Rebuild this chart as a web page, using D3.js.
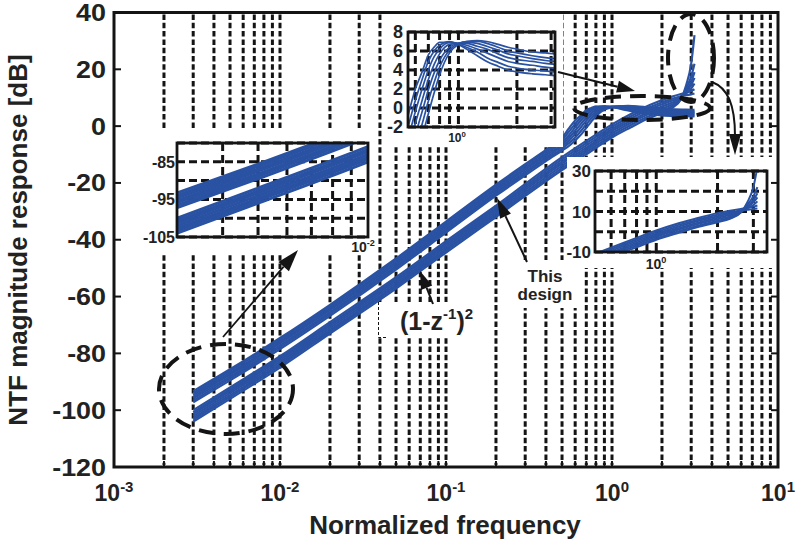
<!DOCTYPE html>
<html><head><meta charset="utf-8">
<script src="https://cdn.jsdelivr.net/npm/d3@7"></script>
<style>
body{margin:0;background:#fff}
svg{display:block}
text{font-family:"Liberation Sans",Arial,Helvetica,sans-serif;font-weight:bold;fill:#222}
</style>
</head><body>
<svg id="c" width="797" height="545"></svg>
<script>
// ---------------- DATA ----------------
// "This design" NTF family (flattens out of band)
const FREQ_UP = [0.003,0.005,0.01,0.02,0.05,0.1,0.2,0.3,0.4,0.5,0.55,0.6,0.65,0.7,0.75,0.8,0.9,1.0,1.1,1.25,1.4,1.6,1.8,2.0,2.4,2.8,3.14];
const UP_C0 = [-93.3,-85.6,-74.6,-62.9,-46.6,-33.6,-20.6,-13.4,-8.4,-4.1,-0.8,2.0,3.8,5.6,6.4,6.9,6.9,6.7,6.2,5.5,4.9,4.4,4.0,3.8,3.6,3.5,3.4];
const UP_C1 = [-94.0,-86.2,-75.2,-63.5,-47.2,-34.2,-21.2,-14.0,-9.0,-4.9,-2.0,0.8,3.0,4.9,6.0,6.6,7.0,6.7,6.4,5.9,5.3,4.8,4.4,4.2,4.0,3.9,3.8];
const UP_C2 = [-94.6,-86.9,-75.9,-64.2,-47.9,-34.9,-21.9,-14.7,-9.7,-5.6,-3.2,-0.4,2.0,4.0,5.4,6.2,6.9,6.8,6.6,6.2,5.8,5.3,4.9,4.7,4.5,4.3,4.2];
const UP_C3 = [-95.3,-87.5,-76.5,-64.8,-48.5,-35.5,-22.5,-15.3,-10.3,-6.4,-4.2,-1.6,0.8,3.0,4.6,5.7,6.7,6.8,6.8,6.5,6.2,5.7,5.3,5.1,4.9,4.7,4.6];
const UP_C4 = [-95.9,-88.2,-77.2,-65.5,-49.2,-36.2,-23.2,-16.0,-11.0,-7.1,-5.1,-2.8,-0.4,1.9,3.7,5.0,6.4,6.8,6.9,6.8,6.5,6.1,5.7,5.5,5.2,5.0,4.9];
const UP_C5 = [-96.6,-88.8,-77.8,-66.1,-49.8,-36.8,-23.8,-16.6,-11.6,-7.9,-6.0,-4.0,-1.7,0.7,2.7,4.3,6.1,6.8,7.0,7.0,6.8,6.4,6.0,5.8,5.5,5.3,5.2];
const UP_C6 = [-97.2,-89.5,-78.5,-66.8,-50.5,-37.5,-24.5,-17.3,-12.3,-8.6,-7.0,-5.0,-3.0,-0.6,1.6,3.5,5.8,6.7,7.0,7.1,7.0,6.7,6.4,6.2,5.9,5.8,5.7];
const UP_CURVES = [UP_C0,UP_C1,UP_C2,UP_C3,UP_C4,UP_C5,UP_C6];

// (1-z^-1)^2 family (keeps rising, fans out near pi)
const FREQ_LO = [0.003,0.005,0.01,0.02,0.05,0.1,0.2,0.5,0.8,1.0,1.3,1.6,2.0,2.3,2.6,2.8,3.0,3.14];
const LO_C0 = [-100.0,-92.0,-81.0,-69.0,-53.2,-40.5,-28.0,-10.9,-3.0,0.6,4.3,6.8,9.2,10.4,11.3,11.8,12.4,13.0];
const LO_C1 = [-100.7,-92.7,-81.7,-69.7,-53.9,-41.2,-28.7,-11.7,-3.8,-0.2,3.5,6.0,8.4,9.6,10.5,10.9,11.2,11.5];
const LO_C2 = [-101.3,-93.3,-82.3,-70.3,-54.5,-41.8,-29.3,-12.5,-4.6,-1.0,2.7,5.3,7.7,9.0,10.4,11.6,13.2,15.0];
const LO_C3 = [-102.0,-94.0,-83.0,-71.0,-55.2,-42.5,-30.0,-13.2,-5.4,-1.7,1.9,4.5,6.9,8.3,10.2,12.2,14.5,17.0];
const LO_C4 = [-102.7,-94.7,-83.7,-71.7,-55.9,-43.2,-30.7,-14.0,-6.1,-2.5,1.2,3.8,6.2,7.6,9.8,12.5,15.6,19.0];
const LO_C5 = [-103.3,-95.3,-84.3,-72.3,-56.5,-43.8,-31.3,-14.8,-6.9,-3.3,0.4,3.0,5.4,7.0,9.5,13.3,17.5,22.0];
const LO_C6 = [-104.0,-96.0,-85.0,-73.0,-57.2,-44.5,-32.0,-15.5,-7.7,-4.0,-0.4,2.3,4.7,6.4,9.5,14.5,22.0,32.0];
const LO_CURVES = [LO_C0,LO_C1,LO_C2,LO_C3,LO_C4,LO_C5,LO_C6];

const Y_TICKS = [40,20,0,-20,-40,-60,-80,-100,-120];
const X_DECADES = [-3,-2,-1,0,1];
const INSET1_YLABELS = [-85,-95,-105];
const INSET2_YLABELS = [8,6,4,2,0,-2];
const INSET3_YLABELS = [30,10,-10];

// ---------------- DRAW ----------------
const svg = d3.select("#c");
const defs = svg.append("defs");
const BLUE = "#2A52A3", INK = "#141414";
const L=114, R=778, T=12.5, B=467;
const x = d3.scaleLog().domain([1e-3,10]).range([L,R]);
const y = d3.scaleLinear().domain([-120,40]).range([B,T]);

defs.append("clipPath").attr("id","mainclip").append("rect")
  .attr("x",L).attr("y",T).attr("width",R-L).attr("height",B-T);

// vertical dashed grid
const gridF = x.ticks().filter(f => f > 1.0001e-3 && f < 9.999);
svg.append("g").selectAll("line").data(gridF).join("line")
  .attr("x1",d=>x(d)).attr("x2",d=>x(d)).attr("y1",T+2).attr("y2",B-2)
  .attr("stroke",INK).attr("stroke-width",3).attr("stroke-dasharray","5.5,2.8");

const line = (xs,ys) => d3.line().x(d=>xs(d[0])).y(d=>ys(d[1])).curve(d3.curveMonotoneX);

function drawBand(g, freqs, curves, xs, ys, sw){
  curves.forEach(c=>{
    g.append("path").datum(freqs.map((f,i)=>[f,c[i]]))
      .attr("d", line(xs,ys)).attr("fill","none")
      .attr("stroke",BLUE).attr("stroke-width",sw).attr("stroke-linejoin","round");
  });
}
const gMain = svg.append("g").attr("clip-path","url(#mainclip)");
drawBand(gMain, FREQ_UP, UP_CURVES, x, y, 2.2);
drawBand(gMain, FREQ_LO, LO_CURVES, x, y, 2.2);

// white boxes for insets / labels
const white = (x0,y0,x1,y1) => svg.append("rect").attr("x",x0).attr("y",y0)
   .attr("width",x1-x0).attr("height",y1-y0).attr("fill","#fff");
white(140,130,377,255);
white(386,14,563,147);
white(567,157,775,268);
white(512,260,580,308);
white(378,302,452,338);
svg.append("path").attr("d","M378.5,302 V337.5 H386").attr("fill","none")
  .attr("stroke",INK).attr("stroke-width",1).attr("stroke-dasharray","3,2");

function supLabel(g, xc, yb, base, sup, fs, sfs, dy){
  const t = g.append("text").attr("x",xc).attr("y",yb).attr("text-anchor","middle").style("font-size",fs+"px");
  t.append("tspan").text(base);
  t.append("tspan").attr("dy",-dy).style("font-size",sfs+"px").text(sup);
}

let clipN = 0;
function inset(cfg){
  const g = svg.append("g");
  const ix = d3.scaleLog().domain(cfg.xd).range([cfg.x0,cfg.x1]);
  const iy = d3.scaleLinear().domain(cfg.yd).range([cfg.y1,cfg.y0]);
  const id = "ic"+(clipN++);
  defs.append("clipPath").attr("id",id).append("rect")
    .attr("x",cfg.x0).attr("y",cfg.y0).attr("width",cfg.x1-cfg.x0).attr("height",cfg.y1-cfg.y0);
  g.selectAll(".vg").data(cfg.xg).join("line")
    .attr("x1",d=>ix(d)).attr("x2",d=>ix(d)).attr("y1",cfg.y0).attr("y2",cfg.y1)
    .attr("stroke",INK).attr("stroke-width",3).attr("stroke-dasharray","8,4");
  g.selectAll(".hg").data(cfg.yg).join("line")
    .attr("y1",d=>iy(d)).attr("y2",d=>iy(d)).attr("x1",cfg.x0).attr("x2",cfg.x1)
    .attr("stroke",INK).attr("stroke-width",3).attr("stroke-dasharray","8,4");
  const gc = g.append("g").attr("clip-path",`url(#${id})`);
  cfg.bands.forEach(b => drawBand(gc, b[0], b[1], ix, iy, cfg.sw));
  g.append("rect").attr("x",cfg.x0).attr("y",cfg.y0).attr("width",cfg.x1-cfg.x0).attr("height",cfg.y1-cfg.y0)
    .attr("fill","none").attr("stroke",INK).attr("stroke-width",2.8);
  cfg.yl.forEach(v=>{
    g.append("text").attr("x",cfg.lx).attr("y",iy(v)+cfg.fs*0.36).attr("text-anchor","end")
      .style("font-size",cfg.fs+"px").text(v);
  });
  supLabel(g, cfg.xlab[0], cfg.xlab[1], "10", cfg.xlab[2], cfg.xlab[3], cfg.xlab[3]*0.65, cfg.xlab[3]*0.4);
}

inset({x0:177,y0:143,x1:368,y1:237, xd:[0.003,0.01], yd:[-105,-80],
  xg:[0.004,0.005,0.006,0.007,0.008,0.009], yg:[-80,-85,-90,-95,-100,-105],
  bands:[[FREQ_UP,UP_CURVES],[FREQ_LO,LO_CURVES]], sw:3,
  yl:INSET1_YLABELS, lx:175, fs:16, xlab:[363,252,"-2",14]});
inset({x0:408,y0:32,x1:555,y1:127, xd:[0.55,3.1416], yd:[-2,8],
  xg:[0.6,0.7,0.8,0.9,1,2,3], yg:[8,6,4,2,0,-2],
  bands:[[FREQ_UP,UP_CURVES]], sw:1.7,
  yl:INSET2_YLABELS, lx:403, fs:18, xlab:[457,142,"0",12]});
inset({x0:595,y0:171,x1:767,y1:252, xd:[0.5,3.5], yd:[-10,30],
  xg:[0.6,0.7,0.8,0.9,1,2,3], yg:[30,20,10,0,-10],
  bands:[[FREQ_LO,LO_CURVES]], sw:2,
  yl:INSET3_YLABELS, lx:591, fs:17, xlab:[656,269,"0",14]});

// annotations: dashed ellipses
function ell(cx,cy,rx,ry){
  svg.append("ellipse").attr("cx",cx).attr("cy",cy).attr("rx",rx).attr("ry",ry)
    .attr("fill","none").attr("stroke",INK).attr("stroke-width",4).attr("stroke-dasharray","16,9");
}
ell(226,389,67,45);
ell(642,108,68,12);
ell(691,58,23,44);

function arrow(x1,y1,x2,y2,hl,hw,sw){
  const a = Math.atan2(y2-y1,x2-x1), c=Math.cos(a), s=Math.sin(a);
  const bx = x2-hl*c, by = y2-hl*s;
  svg.append("line").attr("x1",x1).attr("y1",y1).attr("x2",bx).attr("y2",by)
    .attr("stroke",INK).attr("stroke-width",sw);
  svg.append("path").attr("d",`M${x2},${y2}L${bx - hw*s},${by + hw*c}L${bx + hw*s},${by - hw*c}Z`).attr("fill",INK);
}
arrow(223,337,298,250,22,7,1.8);
arrow(558,72,635,91,18,6,2);
arrow(527,262,497,198,20,6,2);
arrow(433,304,420,271,18,6,2);
svg.append("path").attr("d","M712,82 C728,88 735,105 735,136").attr("fill","none")
  .attr("stroke",INK).attr("stroke-width",2);
svg.append("path").attr("d","M735,155 L729,134 L741,134 Z").attr("fill",INK);

// labels
svg.append("text").attr("x",545).attr("y",282).attr("text-anchor","middle").style("font-size","17px").text("This");
svg.append("text").attr("x",545).attr("y",300).attr("text-anchor","middle").style("font-size","17px").text("design");
const zt = svg.append("text").attr("x",400).attr("y",330).style("font-size","25px");
zt.append("tspan").text("(1-z");
zt.append("tspan").attr("dy",-11).style("font-size","15px").text("-1");
zt.append("tspan").attr("dy",11).text(")");
zt.append("tspan").attr("dy",-11).style("font-size","15px").text("2");

// axes frame & ticks
const ax = svg.append("g");
ax.append("rect").attr("x",L).attr("y",T).attr("width",R-L).attr("height",B-T)
  .attr("fill","none").attr("stroke",INK).attr("stroke-width",3);
Y_TICKS.slice(1,-1).forEach(v=>{
  ax.append("line").attr("x1",L).attr("x2",L+7).attr("y1",y(v)).attr("y2",y(v)).attr("stroke",INK).attr("stroke-width",2);
  ax.append("line").attr("x1",R).attr("x2",R-7).attr("y1",y(v)).attr("y2",y(v)).attr("stroke",INK).attr("stroke-width",2);
});
gridF.forEach(f=>{
  ax.append("line").attr("x1",x(f)).attr("x2",x(f)).attr("y1",B).attr("y2",B-6).attr("stroke",INK).attr("stroke-width",2);
});
Y_TICKS.forEach(v=>{
  ax.append("text").attr("text-anchor","end")
    .attr("transform",`translate(106,${y(v)+8.5}) scale(1.12,1)`).style("font-size","24px").text(v);
});
X_DECADES.forEach(d=>{
  supLabel(ax, x(Math.pow(10,d)), 501, "10", String(d), 23, 15, 9.5);
});
ax.append("text").attr("x",445).attr("y",534).attr("text-anchor","middle").style("font-size","26px").text("Normalized frequency");
ax.append("text").attr("transform","translate(27,240) rotate(-90)").attr("text-anchor","middle")
  .style("font-size","26px").text("NTF magnitude response [dB]");
</script>
</body></html>
